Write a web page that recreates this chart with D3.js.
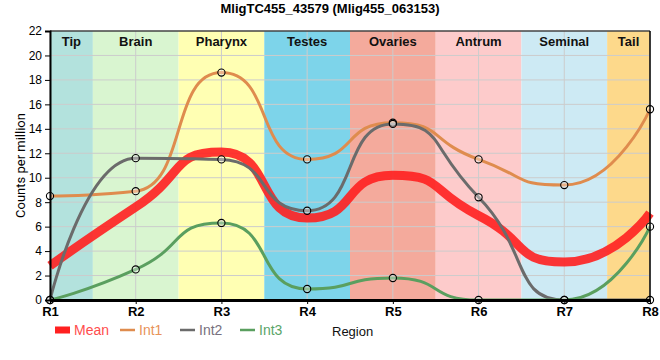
<!DOCTYPE html>
<html lang="en">
<head>
<meta charset="UTF-8">
<title>MligTC455_43579</title>
<style>
  html, body { margin: 0; background: #fff; }
  text { font-family: "Liberation Sans", Arial, sans-serif; }
  .grid line { stroke: #cccccc; stroke-width: 1; }
</style>
</head>
<body>
<main></main>
<script src="https://d3js.org/d3.v7.min.js"></script>
<script>
  // ---- data ----
  const regions = ['R1', 'R2', 'R3', 'R4', 'R5', 'R6', 'R7', 'R8'];
  const bandNames = ['Tip', 'Brain', 'Pharynx', 'Testes', 'Ovaries', 'Antrum', 'Seminal', 'Tail'];
  const bandColors = ['#b3e2dd', '#d9f5d0', '#ffffb3', '#7dd4ea', '#f4aa9c', '#fdcbcb', '#cdeaf4', '#fdd98b'];
  const meanVals = [2.8, 7.6, 12.1, 6.7, 10.2, 6.9, 3.1, 7.1];
  const int1Vals = [8.5, 8.9, 18.6, 11.5, 14.5, 11.5, 9.4, 15.6];
  const int2Vals = [0, 11.6, 11.5, 7.3, 14.4, 8.4, 0, 0];
  const int3Vals = [0, 2.5, 6.3, 0.9, 1.8, 0, 0, 6.0];
  const yTicks = [0, 2, 4, 6, 8, 10, 12, 14, 16, 18, 20, 22];

  const W = 660, H = 360;
  const m = { left: 50, right: 10, top: 31, bottom: 60 };

  // spline: tangent from neighbours, flattened at local extremes.
  // control points sit at CTRL of the gap from each point.
  const CTRL = 0.6;
  function curveSpline(context) {
    let pts;
    return {
      areaStart() {}, areaEnd() {},
      lineStart() { pts = []; },
      point(x, y) { pts.push([+x, +y]); },
      lineEnd() {
        const n = pts.length;
        if (!n) return;
        const left = [], right = [];
        for (let i = 0; i < n; i++) {
          const [px, py] = pts[i];
          if (i === 0 || i === n - 1) { left[i] = [px, py]; right[i] = [px, py]; continue; }
          const [lx, ly] = pts[i - 1], [nx, ny] = pts[i + 1];
          const slope = (ny - ly) / (nx - lx);
          const lcx = px - CTRL * (px - lx), rcx = px + CTRL * (nx - px);
          let lcy = py - slope * (px - lcx), rcy = py + slope * (rcx - px);
          if (lcy > ly && lcy > py) { lcy = Math.max(ly, py); rcy = py + (py - lcy) * (rcx - px) / (px - lcx); }
          else if (lcy < ly && lcy < py) { lcy = Math.min(ly, py); rcy = py + (py - lcy) * (rcx - px) / (px - lcx); }
          if (rcy > ny && rcy > py) { rcy = Math.max(ny, py); lcy = py - (rcy - py) * (px - lcx) / (rcx - px); }
          else if (rcy < ny && rcy < py) { rcy = Math.min(ny, py); lcy = py - (rcy - py) * (px - lcx) / (rcx - px); }
          left[i] = [lcx, lcy]; right[i] = [rcx, rcy];
        }
        context.moveTo(pts[0][0], pts[0][1]);
        for (let i = 1; i < n; i++) {
          context.bezierCurveTo(right[i - 1][0], right[i - 1][1], left[i][0], left[i][1], pts[i][0], pts[i][1]);
        }
      }
    };
  }

  const svg = d3.select('main').append('svg')
    .attr('width', W).attr('height', H);

  const x = d3.scaleLinear().domain([0, regions.length - 1]).range([m.left, W - m.right]);
  const y = d3.scaleLinear().domain([0, 22]).range([H - m.bottom, m.top]);

  // bands
  svg.append('g').selectAll('rect')
    .data(bandNames)
    .join('rect')
    .attr('x', (d, i) => x(Math.max(0, i - 0.5)))
    .attr('width', (d, i) => x(Math.min(regions.length - 1, i + 0.5)) - x(Math.max(0, i - 0.5)))
    .attr('y', y(22))
    .attr('height', y(0) - y(22))
    .attr('fill', (d, i) => bandColors[i]);

  // grid
  const grid = svg.append('g').attr('class', 'grid');
  grid.selectAll('.gy').data(yTicks).join('line').attr('class', 'gy')
    .attr('x1', x(0)).attr('x2', x(7))
    .attr('y1', d => y(d)).attr('y2', d => y(d));
  grid.selectAll('.gx').data(regions).join('line').attr('class', 'gx')
    .attr('x1', (d, i) => x(i)).attr('x2', (d, i) => x(i))
    .attr('y1', y(0)).attr('y2', y(22));

  // band labels
  svg.append('g').selectAll('text')
    .data(bandNames)
    .join('text')
    .attr('x', (d, i) => (x(Math.max(0, i - 0.5)) + x(Math.min(7, i + 0.5))) / 2)
    .attr('y', y(22) + 15)
    .attr('text-anchor', 'middle')
    .attr('font-size', 13)
    .attr('font-weight', 'bold')
    .attr('fill', '#111')
    .text(d => d);

  // lines
  const line = d3.line()
    .x((d, i) => x(i))
    .y(d => y(d))
    .curve(curveSpline);

  const series = [
    { name: 'Mean', vals: meanVals, color: '#ff2020', width: 9, opacity: 0.9, pts: false },
    { name: 'Int1', vals: int1Vals, color: '#df8c4e', width: 3, opacity: 1, pts: true },
    { name: 'Int2', vals: int2Vals, color: '#6b6b6b', width: 3, opacity: 1, pts: true },
    { name: 'Int3', vals: int3Vals, color: '#5a9f5f', width: 3, opacity: 1, pts: true }
  ];
  const order = [1, 0, 2, 3];
  order.forEach(k => {
    const s = series[k];
    svg.append('path')
      .attr('d', line(s.vals))
      .attr('fill', 'none')
      .attr('stroke', s.color)
      .attr('stroke-width', s.width)
      .attr('stroke-opacity', s.opacity)
      .attr('stroke-linejoin', 'round');
  });
  series.filter(s => s.pts).forEach(s => {
    svg.append('g').selectAll('circle')
      .data(s.vals)
      .join('circle')
      .attr('cx', (d, i) => x(i))
      .attr('cy', d => y(d))
      .attr('r', 3.6)
      .attr('fill', '#fff')
      .attr('fill-opacity', 0.35)
      .attr('stroke', '#000')
      .attr('stroke-width', 1.1);
  });

  // frame
  svg.append('line').attr('x1', x(0)).attr('x2', x(7)).attr('y1', y(22)).attr('y2', y(22))
    .attr('stroke', '#000').attr('stroke-width', 1);
  svg.append('line').attr('x1', x(7)).attr('x2', x(7)).attr('y1', y(22)).attr('y2', y(0))
    .attr('stroke', '#000').attr('stroke-width', 1.5);

  // axes
  const yAxis = svg.append('g')
    .attr('transform', `translate(${x(0)},0)`)
    .call(d3.axisLeft(y).tickValues(yTicks).tickSize(5).tickPadding(3));
  yAxis.select('.domain').attr('stroke-width', 2);
  yAxis.selectAll('text').attr('font-size', 12).attr('font-family', '"Liberation Sans", Arial, sans-serif').attr('fill', '#000');

  const xAxis = svg.append('g')
    .attr('transform', `translate(0,${y(0)})`)
    .call(d3.axisBottom(x).tickValues(d3.range(regions.length)).tickFormat(i => regions[i]).tickSize(4).tickSizeOuter(0).tickPadding(3));
  xAxis.select('.domain').attr('stroke-width', 3);
  xAxis.selectAll('text').attr('font-size', 13).attr('font-weight', 'bold')
    .attr('font-family', '"Liberation Sans", Arial, sans-serif').attr('fill', '#000');

  // titles
  svg.append('text')
    .attr('x', 330).attr('y', 13)
    .attr('text-anchor', 'middle')
    .attr('font-size', 13).attr('font-weight', 'bold')
    .text('MligTC455_43579 (Mlig455_063153)');

  svg.append('text')
    .attr('transform', `translate(25,${(y(0) + y(22)) / 2}) rotate(-90)`)
    .attr('text-anchor', 'middle')
    .attr('font-size', 13)
    .style('font-family', 'Roboto, sans-serif')
    .text('Counts per million');

  // legend
  const legend = svg.append('g').style('font-family', 'Roboto, sans-serif');
  const legX = [55, 120, 180, 240];
  const legText = ['#ff4d4d', '#e8935a', '#77707e', '#5aa56a'];
  series.forEach((s, i) => {
    const g = legend.append('g').attr('transform', `translate(${legX[i]},330)`);
    if (s.name === 'Mean') {
      g.append('rect').attr('x', 0).attr('y', -3.5).attr('width', 15).attr('height', 7).attr('fill', s.color);
    } else {
      g.append('line').attr('x1', 0).attr('x2', 15).attr('y1', 0).attr('y2', 0)
        .attr('stroke', s.color).attr('stroke-width', 2.5);
    }
    g.append('text').attr('x', 19).attr('y', 5).attr('font-size', 14)
      .attr('fill', legText[i])
      .text(s.name);
  });
  legend.append('text').attr('x', 332).attr('y', 336).attr('font-size', 13).attr('fill', '#111')
    .text('Region');
</script>
</body>
</html>
